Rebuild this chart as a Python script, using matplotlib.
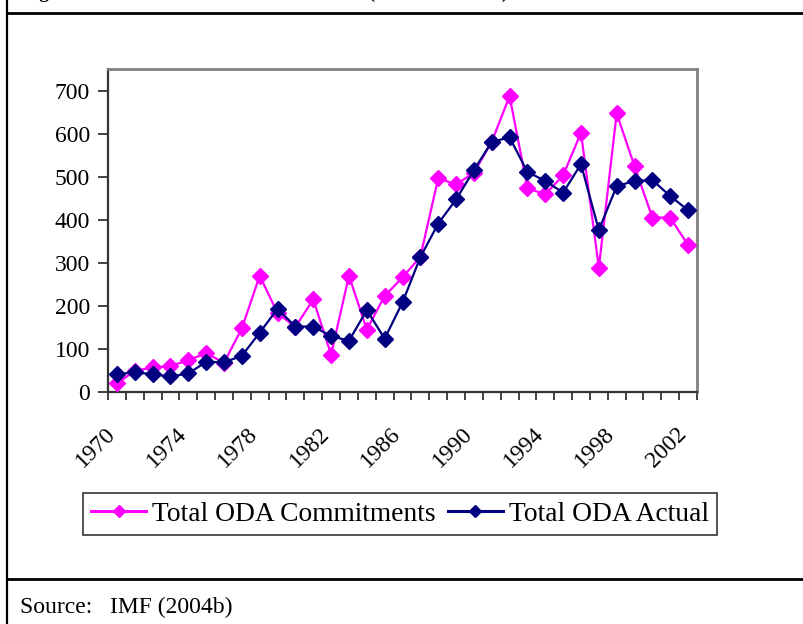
import matplotlib.pyplot as plt
from matplotlib.lines import Line2D
from matplotlib.transforms import ScaledTranslation
import numpy as np

plt.rcParams['font.family'] = ['Liberation Serif', 'DejaVu Serif']

# Data (US$ millions)
years = list(range(1970, 2003))
commitments = [20, 49, 57, 60, 74, 90, 68, 148, 270, 183, 151, 215, 87, 270, 145, 223,
               266, 314, 496, 482, 509, 581, 687, 473, 459, 503, 602, 289, 647, 524, 405, 405, 341]
actual = [41, 46, 41, 36, 43, 70, 69, 84, 138, 193, 152, 152, 130, 119, 190, 124,
          208, 313, 391, 447, 515, 581, 591, 511, 490, 463, 529, 376, 478, 490, 492, 455, 422]
label_years = years[::4]
y_ticks = [0, 100, 200, 300, 400, 500, 600, 700]

pink = '#FF00FF'
navy = '#000080'

W, H = 804, 624
fig = plt.figure(figsize=(W / 100, H / 100), dpi=100)

# plot area in pixel coordinates (left, top, right, bottom)
L, T, R, B = 108, 69, 697, 392
ax = fig.add_axes([L / W, 1 - B / H, (R - L) / W, (B - T) / H])

x = np.arange(len(years))
ax.plot(x, commitments, color=pink, lw=1.6, marker='D', ms=8.5, mec=pink, zorder=3)
ax.plot(x, actual, color=navy, lw=1.6, marker='D', ms=8.5, mec=navy, zorder=4)

ax.set_xlim(-0.5, len(years) - 0.5)
ax.set_ylim(0, 750)

ax.set_yticks(y_ticks)
ax.set_yticklabels([str(v) for v in y_ticks], fontsize=17)
ax.tick_params(axis='y', direction='out', length=7, width=1.3, pad=6, color='#333333')

# category boundaries as ticks
ax.set_xticks(np.arange(-0.5, len(years), 1.0))
ax.set_xticklabels([])
ax.tick_params(axis='x', which='major', direction='out', length=6, width=1.3, color='#333333')

# year labels under every 4th category, rotated like Excel does
offset = ScaledTranslation(-5 / 100, -39 / 100, fig.dpi_scale_trans)
for yr in label_years:
    ax.text(years.index(yr), 0, str(yr), transform=ax.get_xaxis_transform() + offset,
            fontsize=17, rotation=45, ha='right', va='center', rotation_mode='anchor')

for side in ['top', 'right']:
    ax.spines[side].set_color('#808080')
    ax.spines[side].set_linewidth(2)
for side in ['left', 'bottom']:
    ax.spines[side].set_color('#333333')
    ax.spines[side].set_linewidth(1.6)

# legend
handles = [Line2D([], [], color=pink, lw=2.2, marker='D', ms=6),
           Line2D([], [], color=navy, lw=2.2, marker='D', ms=6)]
leg = fig.legend(handles, ['Total ODA Commitments', 'Total ODA Actual'],
                 loc='center', bbox_to_anchor=(400 / W, 1 - 514 / H), ncol=2,
                 fontsize=19.8, frameon=True, fancybox=False, edgecolor='black',
                 handlelength=2.0, handletextpad=0.22, columnspacing=0.42,
                 borderpad=0.3, borderaxespad=0)
leg.get_frame().set_linewidth(1.2)

# page frame lines
fig.add_artist(Line2D([7 / W, 7 / W], [0, 1], transform=fig.transFigure, color='black', lw=1.6))
fig.add_artist(Line2D([7 / W, 1], [1 - 12.5 / H, 1 - 12.5 / H], transform=fig.transFigure,
                      color='black', lw=2))
fig.add_artist(Line2D([7 / W, 1], [1 - 579 / H, 1 - 579 / H], transform=fig.transFigure,
                      color='black', lw=2))

# title cut at the top edge of the crop
fig.text(22 / W, 1 + 2 / H, 'Figure 3: ODA Commitments and Actual (in US$ millions)',
         fontsize=14, fontweight='bold', va='baseline', ha='left')

fig.text(20 / W, 1 - 607 / H, 'Source:   IMF (2004b)', fontsize=17, va='center', ha='left')

fig.savefig('out.png', dpi=100, facecolor='white')
